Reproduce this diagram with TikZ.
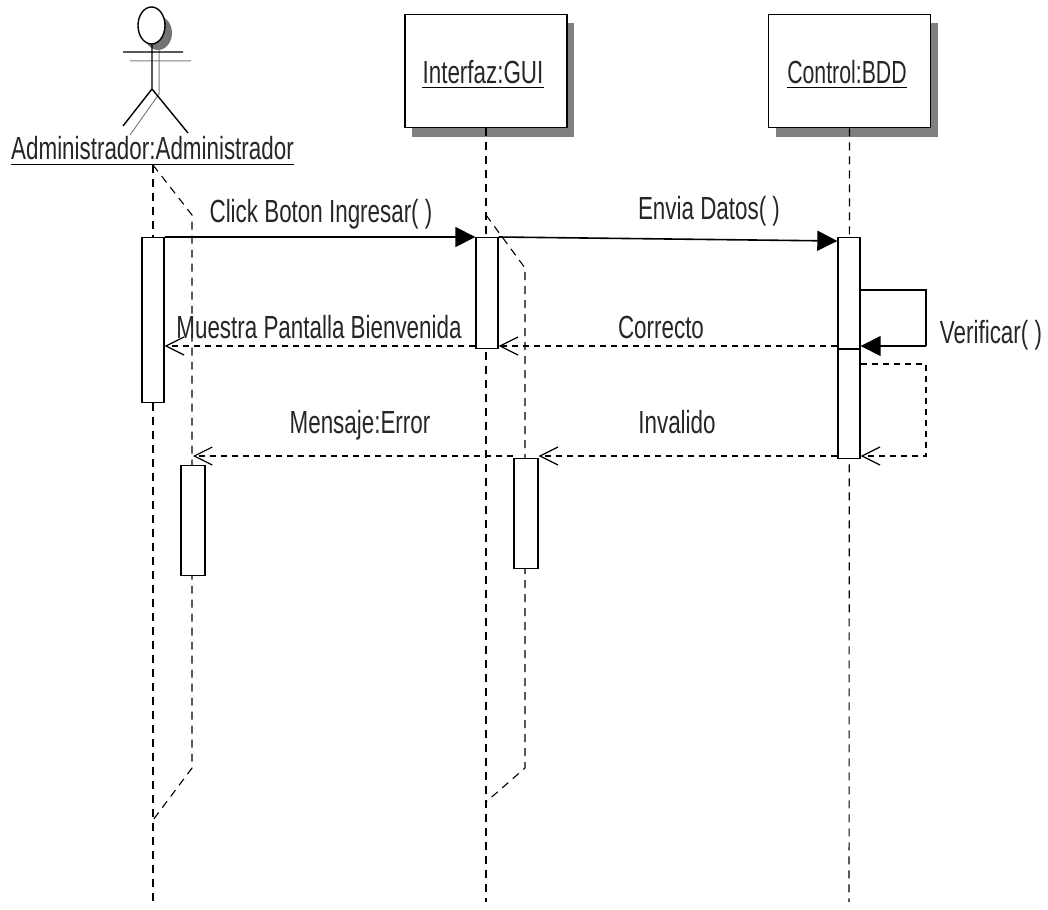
\documentclass[tikz,border=0pt]{standalone}
\usepackage{fontspec}
\usepackage{xcolor}
\usetikzlibrary{arrows.meta,calc,positioning}
\newfontfamily\umlfont[FakeStretch=0.70]{Liberation Sans}

\begin{document}
\begin{tikzpicture}[
    x=0.5pt, y=-0.5pt,
    font=\umlfont\fontsize{16pt}{18pt}\selectfont,
    head/.style={draw=black, line width=0.8pt, fill=white, minimum width=81pt, minimum height=56.5pt, inner sep=0pt},
    shade/.style={fill=black!50, minimum width=81pt, minimum height=57pt, inner sep=0pt},
    bar/.style={draw=black, line width=0.7pt, fill=white, minimum width=11pt, inner sep=0pt, anchor=north},
    life/.style={dash pattern=on 4pt off 3pt, line width=0.55pt},
    limb/.style={line width=0.7pt},
    ghost/.style={line width=0.5pt, draw=black!50},
    call/.style={line width=0.8pt, -{Triangle[length=10pt, width=10pt]}},
    reply/.style={dash pattern=on 3pt off 2.5pt, line width=0.6pt, -{Straight Barb[length=9pt, width=9pt, line width=0.6pt]}},
    msg/.style={text=black!85, inner sep=0pt, anchor=base}
]
    \useasboundingbox (0,0) rectangle (1048,909);
    % header boxes
    \node[shade] (guishade) at (493,80) {};
    \node[shade] (bddshade) at (857,80) {};
    \node[head] (gui) at (486,71) {};
    \node[head] (bdd) at (849.5,71) {};
    \node[msg] (guititle) at (483,84) {Interfaz:GUI};
    \node[msg, xscale=0.95] (bddtitle) at (847,84) {Control:BDD};
    \draw[limb] ([yshift=-1.5pt]guititle.south west) -- ([yshift=-1.5pt]guititle.south east);
    \draw[limb] ([yshift=-1.5pt]bddtitle.south west) -- ([yshift=-1.5pt]bddtitle.south east);
    % actor
    \fill[black!55] (158,33) ellipse (14 and 17);
    \draw[limb, fill=white] (151.5,25.5) ellipse (13.5 and 18.5);
    \draw[ghost] (130,61) -- (191,61) (159,44) -- (159,94) -- (130,135);
    \draw[limb] (123,52) -- (183,52) (152,44) -- (152,89) -- (123,126) (152,89) -- (188,133);
    \node[msg] (actor) at (152.5,160) {Administrador:Administrador};
    \draw[limb] ([yshift=-2pt]actor.south west) -- ([yshift=-2pt]actor.south east);
    % lifelines
    \coordinate (actorend) at (153,902);
    \coordinate (guiend) at (486,902);
    \coordinate (bddend) at (849,902);
    \draw[life] (153,165) -- (actorend);
    \draw[life] (gui.south) -- (guiend);
    \draw[life] (bdd.south) -- (bddend);
    % second instances
    \draw[life] (153,165) -- (192,215) -- (192,768) -- (153,820);
    \draw[life] (486,215) -- (525,268) -- (525,768) -- (486,802);
    % activations
    \node[bar, minimum height=82.5pt] (actbar) at (153,237) {};
    \node[bar, minimum height=55pt, minimum width=12pt] (actbarb) at (193,465) {};
    \node[bar, minimum height=55.5pt] (guibar) at (487,237) {};
    \node[bar, minimum height=55pt, minimum width=12pt] (guibarb) at (526,458) {};
    \node[bar, minimum height=55.5pt] (bddbar) at (849,237) {};
    \node[bar, minimum height=54.5pt] (bddbarb) at (849,349) {};
    % messages
    \draw[call] (actbar.north east) -- (guibar.north west);
    \draw[call] (guibar.north east) -- (bddbar.north west |- 0,241);
    \draw[line width=0.8pt] (bddbar.east |- 0,290) -- (926,290) coordinate (loopa) -- (926,346) coordinate (loopb);
    \draw[call] (loopb) -- (bddbar.east |- loopb);
    \draw[reply] (guibar.west |- loopb) -- (actbar.east |- loopb);
    \draw[reply] (bddbar.west |- loopb) -- (guibar.east |- loopb);
    \draw[reply] (bddbarb.east |- 0,364) -- (926,364) -- (926,456) coordinate (loopc) -- (bddbarb.east |- loopc);
    \draw[reply] (bddbarb.west |- loopc) -- (guibarb.east |- loopc);
    \draw[reply] (guibarb.west |- loopc) -- (actbarb.north |- loopc);
    % labels
    \node[msg] (lclick) at (321,222) {Click Boton Ingresar( )};
    \node[msg] (lenvia) at (709,220) {Envia Datos( )};
    \node[msg] (lmuestra) at (319,338) {Muestra Pantalla Bienvenida};
    \node[msg] (lcorrecto) at (661,338) {Correcto};
    \node[msg] (lverif) at (991,343) {Verificar( )};
    \node[msg] (lerror) at (360,433) {Mensaje:Error};
    \node[msg] (linvalido) at (677,433) {Invalido};
\end{tikzpicture}
\end{document}
